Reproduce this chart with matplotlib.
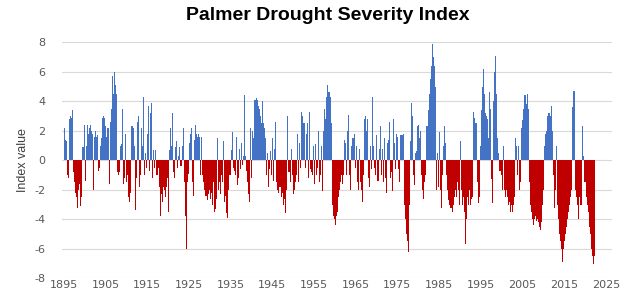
import matplotlib
matplotlib.use("Agg")
import matplotlib.pyplot as plt
import numpy as np

# ---- data (quarterly index values) ----
start_year = 1895
steps_per_year = 4
pdsi = [
    2.2, 1.4, 1.3, -1.0,     # 1895
    -1.2, 2.8, 3.0, 2.9,     # 1896
    3.4, -0.8, -1.5, -2.2,   # 1897
    -2.5, -3.2, -2.0, -1.6,  # 1898
    -3.1, -2.5, 0.9, 2.4,    # 1899
    -1.4, 1.0, 2.4, 1.8,     # 1900
    2.2, 2.4, 2.0, 1.8,      # 1901
    -2.0, 1.6, 2.0, 1.6,     # 1902
    1.7, -0.7, -0.5, 1.0,    # 1903
    1.5, 2.9, 3.0, 2.9,      # 1904
    2.3, 1.6, 2.2, -1.6,     # 1905
    2.6, 3.5, 5.7, 4.5,      # 1906
    6.0, 5.1, 4.5, -0.8,     # 1907
    -1.0, -0.8, 1.0, 1.1,    # 1908
    3.5, -1.6, -1.2, 1.8,    # 1909
    -1.5, -1.0, -2.5, -2.8,  # 1910
    -2.2, 2.3, 2.2, 1.0,     # 1911
    -3.4, -1.2, 2.6, 3.0,    # 1912
    -1.8, -1.0, 2.2, 1.0,    # 1913
    4.3, -1.0, 0.5, -0.5,    # 1914
    1.8, 3.7, -0.7, 3.2,     # 1915
    3.9, -1.2, 0.7, -0.5,    # 1916
    0.7, -1.0, -0.5, -1.8,   # 1917
    -3.8, -2.3, -2.8, -1.8,  # 1918
    -2.0, -2.5, -1.8, -1.2,  # 1919
    -3.5, 0.7, 2.2, 1.0,     # 1920
    3.2, -0.8, -1.2, 0.9,    # 1921
    1.3, -0.5, 0.3, 0.9,     # 1922
    -0.4, 1.0, 2.2, -1.5,    # 1923
    -3.8, -6.0, -1.5, -0.9,  # 1924
    1.2, 1.8, 2.2, -1.5,     # 1925
    -2.4, 1.4, 2.4, 1.8,     # 1926
    1.6, 1.8, 1.6, -1.0,     # 1927
    1.6, -1.0, -1.5, -2.0,   # 1928
    -2.4, -2.7, -2.3, -2.0,  # 1929
    -2.6, -2.2, -3.0, -1.5,  # 1930
    -3.5, -3.3, -2.6, 1.5,   # 1931
    -2.0, -1.5, -2.3, -1.0,  # 1932
    -1.5, 1.3, -2.8, -2.4,   # 1933
    -3.6, -3.9, -2.0, -1.0,  # 1934
    0.7, 1.9, -0.5, -0.7,    # 1935
    -1.0, 1.6, -1.7, -1.2,   # 1936
    0.8, -0.6, 1.2, -0.3,    # 1937
    0.3, 4.4, 0.3, -0.7,     # 1938
    -1.5, -2.3, -2.8, 2.2,   # 1939
    -1.2, 2.0, 1.5, 4.1,     # 1940
    4.2, 4.1, 3.7, 3.5,      # 1941
    3.0, 2.5, 4.0, 2.5,      # 1942
    2.2, 1.5, -1.0, 0.5,     # 1943
    -1.8, -0.6, 0.6, -1.0,   # 1944
    1.5, -1.4, 0.8, 2.6,     # 1945
    -1.5, -2.0, -2.2, -1.8,  # 1946
    -2.5, -2.2, -3.0, -2.6,  # 1947
    -3.6, -2.0, 3.0, -0.8,   # 1948
    -0.8, -1.5, 0.8, -1.0,   # 1949
    -2.3, -2.0, -1.5, -1.0,  # 1950
    1.8, -1.5, 1.2, -0.5,    # 1951
    3.3, 3.0, 2.5, -0.5,     # 1952
    1.8, 2.5, -1.2, 3.3,     # 1953
    -0.6, -0.8, -1.0, 1.0,   # 1954
    -1.6, 1.1, -1.0, -0.5,   # 1955
    2.0, -1.5, -1.0, 1.0,    # 1956
    -2.1, 2.0, 3.5, 2.8,     # 1957
    4.3, 5.1, 4.6, 4.3,      # 1958
    2.5, -3.0, -3.8, -4.0,   # 1959
    -4.4, -3.8, -3.5, -2.5,  # 1960
    -2.0, -1.5, -1.0, -1.6,  # 1961
    -1.0, 1.4, 1.2, -1.0,    # 1962
    2.0, 3.1, -1.0, -2.0,    # 1963
    1.0, 1.5, 1.8, -0.5,     # 1964
    1.0, -1.5, -2.0, 0.8,    # 1965
    -1.5, -2.0, -2.8, -1.0,  # 1966
    2.8, 3.0, 2.0, 2.8,      # 1967
    -1.2, -1.8, 1.0, -0.6,   # 1968
    4.3, 1.0, -0.5, -1.0,    # 1969
    1.7, -1.4, 0.8, 2.3,     # 1970
    -1.0, 0.8, -1.5, 1.5,    # 1971
    -1.2, -2.2, 1.2, 1.4,    # 1972
    2.6, -1.2, -0.8, -2.1,   # 1973
    2.8, 1.2, -0.6, 1.8,     # 1974
    1.6, -0.6, -1.5, 1.7,    # 1975
    1.7, 1.8, -3.0, -4.0,    # 1976
    -5.0, -5.5, -6.2, -3.0,  # 1977
    1.3, 3.9, 3.0, -1.0,     # 1978
    -1.7, 0.5, 0.6, 2.3,     # 1979
    2.4, 1.5, 2.0, -1.0,     # 1980
    -2.0, -2.6, -1.5, -1.0,  # 1981
    2.3, 3.4, 4.5, 5.5,      # 1982
    6.4, 7.9, 7.0, 6.4,      # 1983
    5.0, -2.0, 0.5, -1.8,    # 1984
    1.9, -2.0, -3.2, -1.0,   # 1985
    1.0, 2.3, 1.2, -1.0,     # 1986
    -2.0, -2.7, -3.0, -3.2,  # 1987
    -3.5, -3.0, -2.5, -2.0,  # 1988
    -2.5, -1.5, -2.0, -3.0,  # 1989
    1.3, -2.0, -3.0, -2.5,   # 1990
    -3.5, -5.7, -4.0, -2.5,  # 1991
    -3.0, -2.0, -3.0, -2.6,  # 1992
    -2.5, 3.3, 2.9, 2.5,     # 1993
    -1.5, -2.9, -2.5, 1.0,   # 1994
    3.4, 5.0, 6.2, 4.5,      # 1995
    3.2, 3.0, 2.8, 1.5,      # 1996
    4.6, 3.5, -1.3, -2.9,    # 1997
    4.0, 6.0, 7.1, 4.5,      # 1998
    1.5, 0.5, -0.7, -1.0,    # 1999
    -2.0, 1.0, -2.0, -2.5,   # 2000
    -2.0, -2.5, -3.0, -2.8,  # 2001
    -3.5, -3.0, -3.5, -3.0,  # 2002
    -2.5, 1.5, 1.0, -1.0,    # 2003
    1.0, -2.0, -1.5, 2.2,    # 2004
    2.7, 3.5, 4.4, 3.8,      # 2005
    4.5, 3.5, -1.5, -3.0,    # 2006
    -3.5, -4.0, -4.4, -4.0,  # 2007
    -3.8, -4.1, -4.0, -4.2,  # 2008
    -4.5, -4.7, -4.2, -3.0,  # 2009
    -2.0, 1.0, 1.8, 2.0,     # 2010
    3.0, 3.2, 3.0, 3.7,      # 2011
    2.0, -1.0, -3.2, -2.0,   # 2012
    1.0, -3.0, -4.0, -5.0,   # 2013
    -5.5, -6.0, -6.9, -6.0,  # 2014
    -5.5, -5.0, -4.5, -4.0,  # 2015
    -3.5, -3.0, -2.5, -2.0,  # 2016
    3.6, 4.7, -2.0, -2.5,    # 2017
    -3.0, -4.0, -2.5, -3.0,  # 2018
    -3.0, 2.3, 0.3, -1.5,    # 2019
    -1.5, -2.5, -3.0, -3.5,  # 2020
    -4.5, -5.0, -6.0, -6.5,  # 2021
    -7.0, -6.5,              # 2022
]
xtick_years = list(range(1895, 2026, 10))
ytick_values = list(range(-8, 9, 2))
title_text = "Palmer Drought Severity Index"
ylabel_text = "Index value"

# ---- figure ----
W, H = 621, 294
fig = plt.figure(figsize=(W / 100, H / 100), dpi=100)
fig.patch.set_facecolor("white")

left_px, right_px = 62, 612
top_px, bottom_px = 42.3, 278.3
ax = fig.add_axes([left_px / W, 1 - bottom_px / H,
                   (right_px - left_px) / W, (bottom_px - top_px) / H])

vals = np.array(pdsi)
step = 1.0 / steps_per_year
xs = start_year + np.arange(len(vals)) * step
colors = np.where(vals >= 0, "#4472C4", "#C00000")
ax.bar(xs, vals, width=step, align="edge", color=colors, linewidth=0)

px_per_year = 4.17
x0 = 1895 - (63.7 - left_px) / px_per_year
x1 = x0 + (right_px - left_px) / px_per_year
ax.set_xlim(x0, x1)
ax.set_ylim(-8, 8)

ax.set_yticks(ytick_values)
ax.set_yticklabels([str(v) for v in ytick_values])
ax.set_xticks(xtick_years)
ax.set_xticklabels([str(y) for y in xtick_years])
ax.tick_params(axis="both", length=0, labelsize=8, colors="#595959")
ax.tick_params(axis="y", pad=12)
ax.tick_params(axis="x", pad=1.5)

ax.yaxis.grid(True, color="#D9D9D9", linewidth=0.8)
ax.set_axisbelow(True)
for s in ax.spines.values():
    s.set_visible(False)

fig.text(0.528, 1 - 16 / H, title_text, ha="center", va="center",
         fontsize=14, fontweight="bold", family=["Liberation Sans", "DejaVu Sans"],
         color="#000000")
fig.text(23 / W, 1 - 160 / H, ylabel_text, ha="center", va="center",
         rotation=90, fontsize=9, color="#404040",
         family=["Liberation Sans Narrow", "Liberation Sans", "DejaVu Sans"])

fig.savefig("out.png", dpi=100, facecolor="white")
